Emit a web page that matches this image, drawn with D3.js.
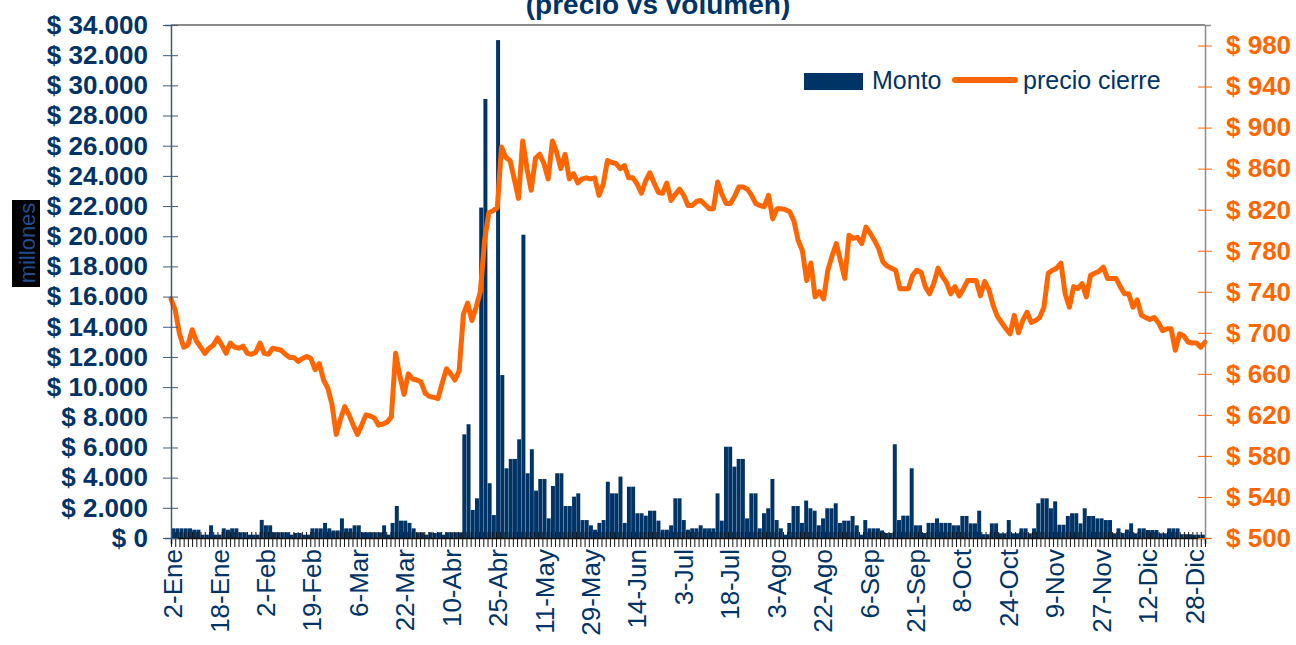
<!DOCTYPE html>
<html>
<head>
<meta charset="utf-8">
<script src="https://cdn.jsdelivr.net/npm/d3@7"></script>
<style>
body{margin:0;background:#fff}
svg{display:block;font-family:"Liberation Sans",Arial,sans-serif}
</style>
</head>
<body>
<svg></svg>
<script>
// tick labels, one every 11 trading days
var tickLabels = ["2-Ene","18-Ene","2-Feb","19-Feb","6-Mar","22-Mar","10-Abr","25-Abr",
    "11-May","29-May","14-Jun","3-Jul","18-Jul","3-Ago","22-Ago","6-Sep","21-Sep",
    "8-Oct","24-Oct","9-Nov","27-Nov","12-Dic","28-Dic"];
var tickStep = 11;

// Monto (millones)
var monto = [
    640,640,640,640,640,550,550,220,220,840,
    220,220,640,550,640,640,380,380,220,220,
    220,1200,840,840,380,380,380,380,220,330,
    330,220,220,640,640,640,1000,640,500,500,
    1300,640,640,840,840,380,380,380,380,380,
    840,220,1000,2120,1150,1150,1000,640,380,380,
    220,380,330,380,220,380,380,380,380,
    6870,7540,1860,2630,21900,29100,3630,1520,33000,10800,
    4620,5240,5240,6540,20100,4290,5880,3140,3910,3910,
    1300,3450,4290,4290,2120,2120,2740,2960,1190,1190,
    840,550,1000,1190,3730,2960,2960,4070,1000,3400,
    3400,1640,1640,1480,1810,1810,1150,550,550,840,
    2630,2630,1190,
    550,640,640,840,640,640,640,2960,1150,6050,
    6050,4730,5240,5240,1300,2960,2960,640,1640,1970,
    3910,1190,640,220,1000,2120,2120,1000,2480,1970,
    1810,840,1300,1970,1970,2300,1000,1150,1150,1460,
    840,220,1190,640,640,640,500,330,330,6210,
    1190,1480,1480,4620,840,840,330,1000,1000,1300,
    1000,1000,1000,840,840,
    1460,1460,970,970,1810,250,250,970,970,310,
    310,1190,310,310,640,640,310,640,2300,2630,
    2630,1970,2430,880,880,1460,1640,1640,970,1970,
    1460,1460,1300,1300,1190,1190,310,640,330,560,
    970,310,640,640,530,530,530,310,310,640,
    640,640,250,250,250,220,220,220
];

// precio cierre
var precio = [
    733,722,699,686,688,703,692,686,680,685,
    688,695,688,680,690,686,685,687,680,679,
    681,690,680,679,685,684,683,679,676,676,
    672,675,677,675,664,670,654,646,630,601,
    616,628,620,610,601,610,620,619,617,610,
    611,613,618,680,658,640,660,655,654,652,
    641,638,637,636,651,665,660,654,663,718,
    729,712,725,740,790,817,819,822,881,871,
    868,850,831,887,860,839,870,874,865,850,
    887,876,860,874,850,855,846,850,851,850,
    851,834,845,868,866,865,860,863,851,851,
    845,836,848,856,846,837,836,846,829,835,
    840,834,824,824,828,829,825,821,821,847,
    835,826,826,833,842,842,840,834,826,824,
    823,834,811,821,821,820,818,809,790,780,
    751,768,735,740,733,761,775,787,770,753,
    795,792,793,787,803,797,790,782,769,765,
    763,761,743,743,743,756,761,759,745,738,
    748,763,755,749,738,745,736,743,751,751,
    751,736,750,742,727,716,710,704,699,717,
    700,712,720,710,712,715,725,758,761,763,
    768,738,725,745,743,748,735,756,758,760,
    764,753,753,753,745,738,738,725,732,717,
    715,713,715,710,702,704,704,683,699,697,
    691,690,690,686,691
];

var navy = "#003366";
var orange = "#FF6600";

var fmtMiles = function(v)
{
    return "$ " + d3.format(",")(v).replace(/,/g,".");
}

var drawBars = function(target,xBand,yLeft,graph)
{
    target.append("g")
        .selectAll("rect")
        .data(monto)
        .enter()
        .append("rect")
        .attr("x",function(d,i){return xBand(i);})
        .attr("y",function(d){return yLeft(d);})
        .attr("width",xBand.bandwidth())
        .attr("height",function(d){return graph.height-yLeft(d);})
        .attr("fill",navy);
}

var drawLine = function(target,xPoint,yRight)
{
    var lineGenerator = d3.line()
        .x(function(d,i){return xPoint(i);})
        .y(function(d){return yRight(d);});

    target.append("path")
        .datum(precio)
        .attr("d",lineGenerator)
        .attr("fill","none")
        .attr("stroke",orange)
        .attr("stroke-width",5)
        .attr("stroke-linejoin","round")
        .attr("stroke-linecap","round");
}

var drawAxes = function(target,graph,xBand,yLeft,yRight)
{
    var n = monto.length;

    // top border
    target.append("line")
        .attr("x1",0).attr("x2",graph.width)
        .attr("y1",0).attr("y2",0)
        .attr("stroke","#8c8c8c")
        .attr("stroke-width",2);

    // x axis, a tick at every category edge
    var xEdge = d3.scaleLinear().domain([0,n]).range([0,graph.width]);
    var xAxis = target.append("g")
        .attr("transform","translate(0,"+graph.height+")")
        .call(d3.axisBottom(xEdge).tickValues(d3.range(n+1)).tickFormat(""));
    xAxis.select(".domain").attr("stroke","#111").attr("stroke-width",1.5);
    xAxis.selectAll(".tick line")
        .attr("y1",-6).attr("y2",9)
        .attr("stroke","#111");

    xAxis.selectAll(".lbl")
        .data(tickLabels)
        .enter()
        .append("text")
        .attr("transform",function(d,k){
            var x = xBand(k*tickStep)+xBand.bandwidth()/2;
            return "translate("+x+",11) rotate(-90)";
        })
        .attr("dy","0.35em")
        .attr("text-anchor","end")
        .attr("fill",navy)
        .style("font-size","26px")
        .text(function(d){return d;});

    // left axis
    var leftAxis = target.append("g")
        .call(d3.axisLeft(yLeft).tickValues(d3.range(0,34001,2000)).tickFormat(fmtMiles));
    leftAxis.select(".domain").attr("stroke","#3c5a80").attr("stroke-width",1.5);
    leftAxis.selectAll(".tick line")
        .attr("x1",7).attr("x2",-8)
        .attr("stroke","#3c5a80");
    leftAxis.selectAll(".tick text")
        .attr("x",-23)
        .attr("fill",navy)
        .style("font-size","26px")
        .style("font-weight","bold");

    // right axis
    var rightAxis = target.append("g")
        .attr("transform","translate("+graph.width+",0)")
        .call(d3.axisRight(yRight).tickValues(d3.range(500,981,40)).tickFormat(function(v){return "$ "+v;}));
    rightAxis.select(".domain").attr("stroke","#8c8c8c").attr("stroke-width",1.5);
    rightAxis.selectAll(".tick line")
        .attr("x1",-7).attr("x2",7)
        .attr("stroke",orange);
    rightAxis.selectAll(".tick text")
        .attr("x",21)
        .attr("fill",orange)
        .style("font-size","26px")
        .style("font-weight","bold");

    leftAxis.selectAll("text").attr("font-family",null);
    rightAxis.selectAll("text").attr("font-family",null);
    leftAxis.attr("font-family",null);
    rightAxis.attr("font-family",null);
    xAxis.attr("font-family",null);
}

var drawLabels = function(svg)
{
    svg.append("text")
        .text("(precio vs volumen)")
        .attr("x",658)
        .attr("y",14)
        .attr("text-anchor","middle")
        .attr("fill",navy)
        .style("font-size","28px")
        .style("font-weight","bold");

    var yl = svg.append("g");
    yl.append("rect")
        .attr("x",12).attr("y",200)
        .attr("width",28).attr("height",87)
        .attr("fill","#000");
    yl.append("text")
        .text("millones")
        .attr("transform","translate(27,243) rotate(-90)")
        .attr("dy","0.35em")
        .attr("text-anchor","middle")
        .attr("fill","#1f4e8c")
        .style("font-size","22px");

    // legend
    var legend = svg.append("g");
    legend.append("rect")
        .attr("x",804).attr("y",73)
        .attr("width",59).attr("height",17)
        .attr("fill",navy);
    legend.append("text")
        .text("Monto")
        .attr("x",872).attr("y",89)
        .attr("fill",navy)
        .style("font-size","25px");
    legend.append("line")
        .attr("x1",955).attr("x2",1015)
        .attr("y1",80).attr("y2",80)
        .attr("stroke",orange)
        .attr("stroke-width",6)
        .attr("stroke-linecap","round");
    legend.append("text")
        .text("precio cierre")
        .attr("x",1023).attr("y",89)
        .attr("fill",navy)
        .style("font-size","25px");
}

var initGraph = function()
{
    var screen = {width:1296,height:645};
    var margins = {left:171,right:91,top:25,bottom:107};
    var graph =
        {
            width:screen.width-margins.left-margins.right,
            height:screen.height-margins.top-margins.bottom
        };

    var svg = d3.select("svg")
        .attr("width",screen.width)
        .attr("height",screen.height);

    var target = svg.append("g")
        .attr("transform","translate("+margins.left+","+margins.top+")");

    var n = monto.length;
    var xBand = d3.scaleBand()
        .domain(d3.range(n))
        .range([0,graph.width])
        .paddingInner(0.06)
        .paddingOuter(0.03);
    var xPoint = d3.scalePoint()
        .domain(d3.range(n))
        .range([0,graph.width]);

    var yLeft = d3.scaleLinear()
        .domain([0,34000])
        .range([graph.height,0]);
    var yRight = d3.scaleLinear()
        .domain([500,1000])
        .range([graph.height,0]);

    drawBars(target,xBand,yLeft,graph);
    drawLine(target,xPoint,yRight);
    drawAxes(target,graph,xBand,yLeft,yRight);
    drawLabels(svg);
}

initGraph();
</script>
</body>
</html>
